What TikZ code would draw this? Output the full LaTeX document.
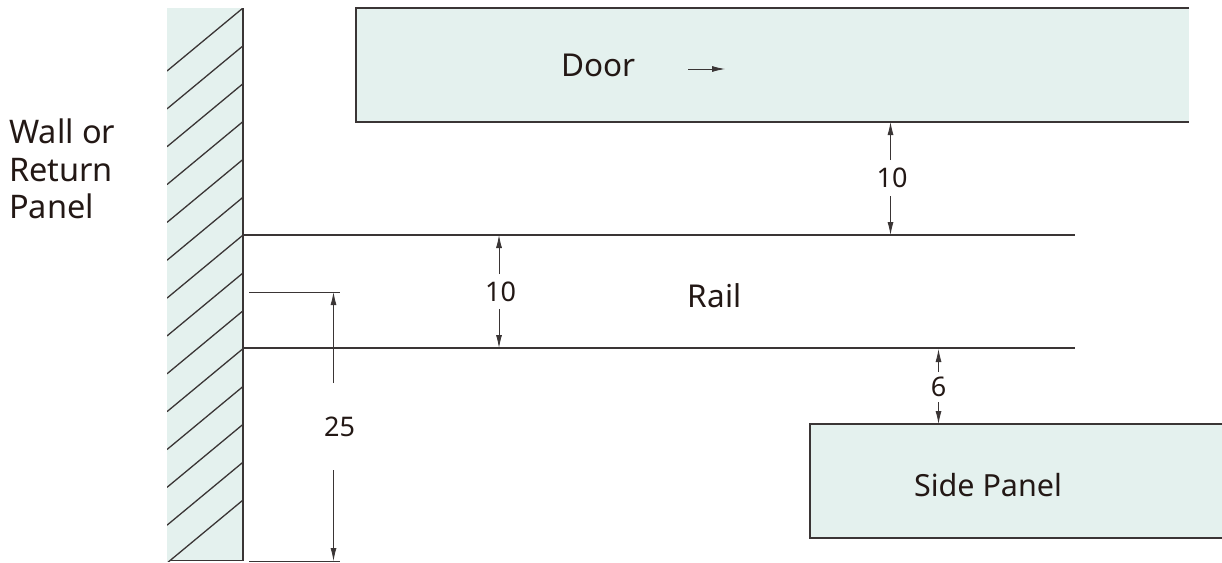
\documentclass[tikz,border=0pt]{standalone}
\usepackage{fontspec}
\setmainfont{Noto Sans}
\usetikzlibrary{arrows.meta}
\definecolor{ink}{HTML}{3A3535}
\definecolor{txt}{HTML}{231815}
\definecolor{panel}{HTML}{E4F1EE}
\tikzset{
  line/.style={draw=ink,line width=1.5pt},
  thin line/.style={draw=ink,line width=0.8pt},
  dim/.style={draw=ink,line width=0.8pt,-{Latex[length=13pt,width=6pt]}},
  lab/.style={text=txt,font=\fontsize{27}{27}\selectfont,inner sep=0pt},
  big/.style={text=txt,font=\fontsize{31.5}{37}\selectfont,inner sep=0pt},
}
\begin{document}
\begin{tikzpicture}[x=1pt,y=-1pt]
\useasboundingbox (0,0) rectangle (1222,562);
% wall
\fill[panel] (167,8) rectangle (243,561);
\begin{scope}
\clip (167,8) rectangle (243,561);
\foreach \k in {0,...,13}{
  \draw[line,line width=1.3pt] (243,8+37.85*\k) -- ++(-76,63);
}
\end{scope}
\draw[line] (243,8) -- (243,560.5) -- (170,560.5);
% door
\fill[panel] (356,8) rectangle (1189,122);
\draw[line] (1189,8) -- (356,8) -- (356,122) -- (1189,122);
% side panel
\fill[panel] (810,424) rectangle (1222,538);
\draw[line] (1222,424) -- (810,424) -- (810,538) -- (1222,538);
% rail
\coordinate (railTL) at (243,235);
\coordinate (railTR) at (1075,235);
\coordinate (railBL) at (243,348);
\coordinate (railBR) at (1075,348);
\draw[line] (railTL) -- (railTR);
\draw[line] (railBL) -- (railBR);
% extension lines
\coordinate (extTa) at (249,292);
\coordinate (extTb) at (340,292);
\coordinate (extBa) at (249,561);
\coordinate (extBb) at (340,561);
\draw[thin line] (extTa) -- (extTb);
\draw[thin line] (extBa) -- (extBb);
% labels
\node[big,font=\fontsize{32.5}{37.5}\selectfont,align=left,anchor=north west] (wall) at (9,119) {Wall or\\Return\\Panel};
\node[big] (door) at (598.5,65) {Door};
\node[big] (rail) at (714.5,296) {Rail};
\node[big,font=\fontsize{30.5}{37}\selectfont] (side) at (988,485) {Side Panel};
\node[lab] (d10a) at (892,178) {10};
\node[lab] (d10b) at (500.5,291.5) {10};
\node[lab] (d6) at (938.5,387) {6};
\node[lab] (d25) at (339.5,426.5) {25};
% door arrow
\coordinate (dirA) at (688,69);
\coordinate (dirB) at (725,69);
\draw[dim] (dirA) -- (dirB);
% dims
\coordinate (a1) at (890.5,122); \coordinate (a1s) at (890.5,160);
\coordinate (a2) at (890.5,235); \coordinate (a2s) at (890.5,196);
\draw[dim] (a1s) -- (a1);
\draw[dim] (a2s) -- (a2);
\coordinate (b1) at (499,235); \coordinate (b1s) at (499,274);
\coordinate (b2) at (499,348); \coordinate (b2s) at (499,309);
\draw[dim] (b1s) -- (b1);
\draw[dim] (b2s) -- (b2);
\coordinate (c1) at (938.5,349); \coordinate (c1s) at (938.5,372);
\coordinate (c2) at (938.5,424); \coordinate (c2s) at (938.5,402);
\draw[dim] (c1s) -- (c1);
\draw[dim] (c2s) -- (c2);
\coordinate (e1) at (333.5,292); \coordinate (e1s) at (333.5,383);
\coordinate (e2) at (333.5,561); \coordinate (e2s) at (333.5,470);
\draw[dim] (e1s) -- (e1);
\draw[dim] (e2s) -- (e2);
\end{tikzpicture}
\end{document}
